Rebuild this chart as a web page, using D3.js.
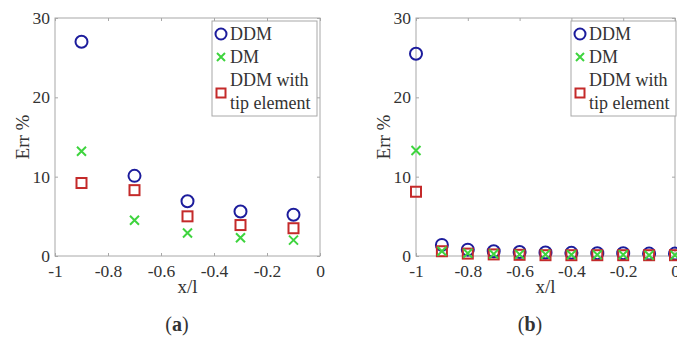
<!DOCTYPE html>
<html>
<head>
<meta charset="utf-8">
<script src="https://cdn.jsdelivr.net/npm/d3@7"></script>
<style>
  html, body { margin: 0; padding: 0; background: #fff; }
  svg { display: block; }
  text { font-family: "Liberation Serif", "DejaVu Serif", serif; fill: #333; }
</style>
</head>
<body>
<svg id="chart" width="677" height="338"></svg>
<script>
// Panel (a): coarse sampling
const xA = [-0.9, -0.7, -0.5, -0.3, -0.1];
const ddmA = [27.0, 10.1, 6.9, 5.6, 5.2];
const dmA = [13.2, 4.5, 2.9, 2.3, 2.0];
const tipA = [9.2, 8.3, 5.0, 3.9, 3.5];

// Panel (b): fine sampling
const xB = [-1, -0.9, -0.8, -0.7, -0.6, -0.5, -0.4, -0.3, -0.2, -0.1, 0];
const ddmB = [25.5, 1.4, 0.8, 0.6, 0.5, 0.45, 0.4, 0.35, 0.35, 0.3, 0.3];
const dmB = [13.3, 0.6, 0.35, 0.25, 0.2, 0.2, 0.15, 0.15, 0.15, 0.1, 0.1];
const tipB = [8.1, 0.6, 0.3, 0.2, 0.15, 0.1, 0.1, 0.1, 0.1, 0.1, 0.1];

const yTicks = [0, 10, 20, 30];
const xTicksA = [-1, -0.8, -0.6, -0.4, -0.2, 0];
const xTicksB = [-1, -0.8, -0.6, -0.4, -0.2, 0];
const legendLabels = ["DDM", "DM", "DDM with", "tip element"];

const colors = { ddm: "#1c1c9c", dm: "#3ed43e", tip: "#c42a2a" };
const axisColor = "#a8a8a8";

const svg = d3.select("#chart");

function panel(cfg) {
  const x = d3.scaleLinear().domain([-1, 0]).range([cfg.left, cfg.right]);
  const y = d3.scaleLinear().domain([0, 30]).range([256, 18]);
  const g = svg.append("g");

  // axes box
  g.append("rect")
    .attr("x", cfg.left).attr("y", y(30))
    .attr("width", cfg.right - cfg.left).attr("height", y(0) - y(30))
    .attr("fill", "none").attr("stroke", axisColor).attr("stroke-width", 1);

  const bottom = g.append("g").attr("transform", `translate(0,${y(0)})`)
    .call(d3.axisBottom(x).tickValues(cfg.xTicks).tickSize(-3).tickPadding(9)
      .tickFormat(d => d3.format("")(d).replace("−", "-")));
  const top = g.append("g").attr("transform", `translate(0,${y(30)})`)
    .call(d3.axisTop(x).tickValues(cfg.xTicks).tickSize(-3).tickFormat(""));
  const leftAx = g.append("g").attr("transform", `translate(${cfg.left},0)`)
    .call(d3.axisLeft(y).tickValues(yTicks).tickSize(-3).tickPadding(5));
  const rightAx = g.append("g").attr("transform", `translate(${cfg.right},0)`)
    .call(d3.axisRight(y).tickValues(yTicks).tickSize(-3).tickFormat(""));
  [bottom, top, leftAx, rightAx].forEach(a => {
    a.select(".domain").remove();
    a.selectAll("line").attr("stroke", axisColor);
    a.selectAll("text").style("font-size", "17.5px")
      .style("font-family", '"Liberation Serif", serif').attr("fill", "#333");
  });
  bottom.selectAll("text").attr("dy", "0.71em");

  // axis titles
  g.append("text").attr("x", (cfg.left + cfg.right) / 2).attr("y", 293)
    .attr("text-anchor", "middle").style("font-size", "19px").text("x/l");
  g.append("text")
    .attr("transform", `translate(${cfg.left - 26},${y(15)}) rotate(-90)`)
    .attr("text-anchor", "middle").style("font-size", "19px").text("Err %");

  // caption
  const cap = g.append("text").attr("x", cfg.capX).attr("y", 331)
    .attr("text-anchor", "middle").style("font-size", "20px");
  cap.append("tspan").text("(");
  cap.append("tspan").attr("font-weight", "bold").text(cfg.cap);
  cap.append("tspan").text(")");

  // series
  g.selectAll(".ddm").data(cfg.xs).enter().append("circle")
    .attr("cx", d => x(d)).attr("cy", (d, i) => y(cfg.ddm[i])).attr("r", 6)
    .attr("fill", "none").attr("stroke", colors.ddm).attr("stroke-width", 2);
  g.selectAll(".tip").data(cfg.xs).enter().append("rect")
    .attr("x", d => x(d) - 5).attr("y", (d, i) => y(cfg.tip[i]) - 5)
    .attr("width", 10).attr("height", 10)
    .attr("fill", "none").attr("stroke", colors.tip).attr("stroke-width", 2);
  const xs = 4.5;
  g.selectAll(".dm").data(cfg.xs).enter().append("path")
    .attr("d", (d, i) => {
      const cx = x(d), cy = y(cfg.dm[i]);
      return `M${cx - xs},${cy - xs}L${cx + xs},${cy + xs}M${cx - xs},${cy + xs}L${cx + xs},${cy - xs}`;
    })
    .attr("stroke", colors.dm).attr("stroke-width", 2).attr("fill", "none");

  // legend
  const lg = g.append("g").attr("transform", `translate(${cfg.legX},21)`);
  lg.append("rect").attr("x", 0).attr("y", 0).attr("width", 105).attr("height", 95)
    .attr("fill", "#fff").attr("stroke", axisColor);
  lg.append("circle").attr("cx", 9).attr("cy", 13).attr("r", 5.5)
    .attr("fill", "none").attr("stroke", colors.ddm).attr("stroke-width", 2);
  lg.append("path").attr("d", "M5,32L13,40M5,40L13,32")
    .attr("stroke", colors.dm).attr("stroke-width", 2);
  lg.append("rect").attr("x", 4.5).attr("y", 67.5).attr("width", 9).attr("height", 9)
    .attr("fill", "none").attr("stroke", colors.tip).attr("stroke-width", 2);
  const ly = [19, 42, 65, 88];
  legendLabels.forEach((t, i) => {
    lg.append("text").attr("x", 18).attr("y", ly[i]).style("font-size", "18px").text(t);
  });
}

panel({ left: 55, right: 320, xs: xA, ddm: ddmA, dm: dmA, tip: tipA,
  xTicks: xTicksA, legX: 212, capX: 177, cap: "a" });
panel({ left: 416, right: 675, xs: xB, ddm: ddmB, dm: dmB, tip: tipB,
  xTicks: xTicksB, legX: 571, capX: 530, cap: "b" });
</script>
</body>
</html>
